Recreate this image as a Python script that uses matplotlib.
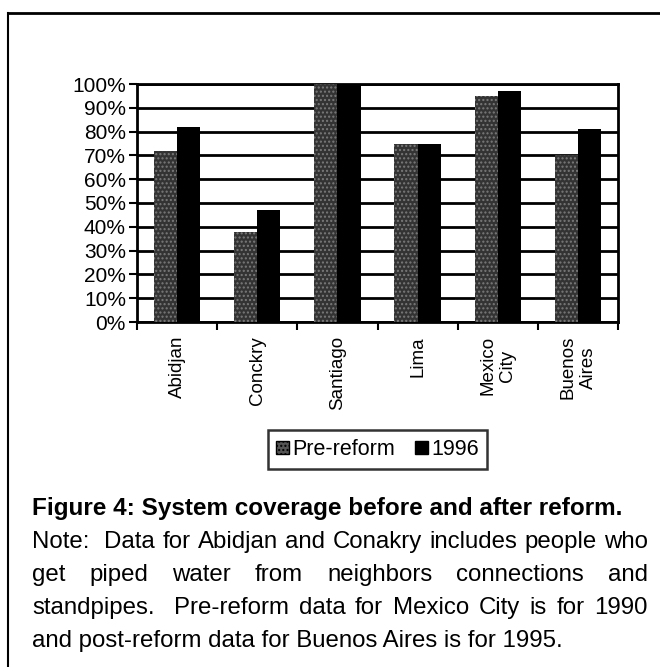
import matplotlib
matplotlib.use("Agg")
import matplotlib.pyplot as plt
from matplotlib.lines import Line2D
from matplotlib.patches import Patch

plt.rcParams['font.family'] = ['Liberation Sans', 'DejaVu Sans']
plt.rcParams['hatch.linewidth'] = 1.0

# coverage, % of population served
cities = ["Abidjan", "Conckry", "Santiago", "Lima", "Mexico\nCity", "Buenos\nAires"]
pre_reform = [72, 38, 100, 75, 95, 70]
after_1996 = [82, 47, 100, 75, 97, 81]
y_ticks = list(range(0, 101, 10))

W, H = 660, 667
fig = plt.figure(figsize=(W / 100, H / 100), dpi=100)


def fx(px):
    return px / W


def fy(py):
    return 1 - py / H


# frame lines around the figure panel
fig.add_artist(Line2D([fx(8), 1], [fy(13), fy(13)], color="black", lw=2))
fig.add_artist(Line2D([fx(8), fx(8)], [fy(13), 0], color="black", lw=1.5))

ax = fig.add_axes([fx(137), fy(322), fx(618) - fx(137), fy(84) - fy(322)])
n = len(cities)
centers = [i + 0.5 for i in range(n)]
bw = 0.29
ax.bar([c - bw / 2 for c in centers], pre_reform, width=bw, color="#333333",
       edgecolor="#7a7a7a", linewidth=0, hatch="....", zorder=3)
ax.bar([c + bw / 2 for c in centers], after_1996, width=bw, color="black",
       linewidth=0, zorder=3)

ax.set_xlim(0, n)
ax.set_ylim(0, 100)
ax.set_yticks(y_ticks)
ax.set_yticklabels([f"{v}%" for v in y_ticks], fontsize=15)
ax.yaxis.grid(True, color="black", lw=2, zorder=1)
ax.set_axisbelow(True)
for s in ax.spines.values():
    s.set_linewidth(2)
    s.set_color("black")

ax.set_xticks(range(n + 1))
ax.set_xticklabels([])
ax.set_xticks(centers, minor=True)
ax.set_xticklabels(cities, minor=True, rotation=90, va="top", ha="center",
                   fontsize=13.5, linespacing=1.25)
ax.tick_params(axis="x", which="major", direction="out", length=6, width=1.5)
ax.tick_params(axis="x", which="minor", length=0, pad=10)
ax.tick_params(axis="y", direction="out", length=6, width=1.5, pad=2)

handles = [Patch(facecolor="#555555", edgecolor="black", hatch="...."),
           Patch(facecolor="black", edgecolor="black")]
fig.legend(handles, ["Pre-reform", "1996"], loc="center",
           bbox_to_anchor=(fx(377.5), fy(449.5)), ncol=2, fontsize=15.5,
           frameon=True, fancybox=False, edgecolor="black", borderpad=0.4,
           handlelength=0.6, handleheight=0.6, handletextpad=0.15,
           columnspacing=0.9, borderaxespad=0)
fig.legends[0].get_frame().set_linewidth(1.8)

# caption
left, right = 32, 648
cap_size = 17.3
fig.text(fx(left), fy(515), "Figure 4: System coverage before and after reform.",
         fontsize=cap_size + 0.2, fontweight="bold", va="baseline", ha="left")

caption = [
    ("Note:  Data for Abidjan and Conakry includes people who", 548, True),
    ("get piped water from neighbors connections and", 581, True),
    ("standpipes.  Pre-reform data for Mexico City is for 1990", 614, True),
    ("and post-reform data for Buenos Aires is for 1995.", 647, False),
]

renderer = fig.canvas.get_renderer()
for line, base, justify in caption:
    if not justify:
        fig.text(fx(left), fy(base), line, fontsize=cap_size, va="baseline", ha="left")
        continue
    parts = line.split(" ")
    words, gaps = [], []
    for p in parts:
        if p == "":
            gaps[-1] += 1
        else:
            words.append(p)
            gaps.append(1)
    gaps = gaps[:-1]
    texts = [fig.text(0, fy(base), w, fontsize=cap_size, va="baseline", ha="left")
             for w in words]
    widths = [t.get_window_extent(renderer).width for t in texts]
    unit = (right - left - sum(widths)) / sum(gaps)
    x = left
    for i, t in enumerate(texts):
        t.set_x(fx(x))
        x += widths[i]
        if i < len(gaps):
            x += unit * gaps[i]

fig.savefig("out.png", dpi=100)
